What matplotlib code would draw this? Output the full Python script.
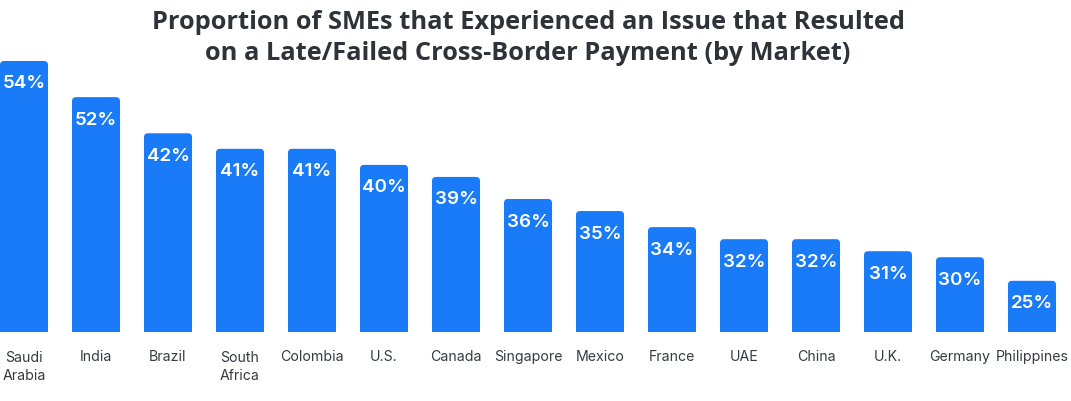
import matplotlib
matplotlib.use("Agg")
import matplotlib.pyplot as plt
from matplotlib.patches import FancyBboxPatch, Rectangle

markets = ["Saudi\nArabia", "India", "Brazil", "South\nAfrica", "Colombia", "U.S.",
           "Canada", "Singapore", "Mexico", "France", "UAE", "China", "U.K.",
           "Germany", "Philippines"]
value_labels = [54, 52, 42, 41, 41, 40, 39, 36, 35, 34, 32, 32, 31, 30, 25]
# bar heights as drawn in the reference (same units as the top bar = 54)
bar_heights = [54.0, 46.8, 39.6, 36.5, 36.5, 33.3, 30.9, 26.5, 24.1, 20.9,
               18.5, 18.5, 16.1, 14.9, 10.2]

W, H = 1071, 402
fig = plt.figure(figsize=(W / 100, H / 100), dpi=100)
base_px = 333
top_px = 55
ax = fig.add_axes([0, (H - base_px) / H, 1, (base_px - top_px) / H])
pitch_px = 72
xl = -24 / pitch_px
xr = (W - 24) / pitch_px
ax.set_xlim(xl, xr)
px_per_unit = 271 / 54.0
ax.set_ylim(0, (base_px - top_px) / px_per_unit)

color = "#1A7BF8"
x = list(range(len(markets)))
bars = ax.bar(x, bar_heights, width=48 / 72, color=color)

r_px = 4
xr_units = r_px / pitch_px
aspect = (1 / px_per_unit) / (1 / pitch_px)
for b in bars:
    bx, by, bw, bh = b.get_x(), b.get_y(), b.get_width(), b.get_height()
    b.set_visible(False)
    ax.add_patch(FancyBboxPatch((bx, by), bw, bh,
                                boxstyle=f"round,pad=0,rounding_size={xr_units}",
                                mutation_aspect=aspect, fc=color, ec="none"))
    ax.add_patch(Rectangle((bx, by), bw, bh / 2, fc=color, ec="none"))

for xi, h, v in zip(x, bar_heights, value_labels):
    ax.text(xi, h - 22 / px_per_unit, f"{v}%", ha="center", va="center",
            color="white", fontsize=13.5, fontweight="semibold", family="Inter")

for xi, m in zip(x, markets):
    if "\n" in m:
        ax.text(xi, -(367 - base_px) / px_per_unit, m, ha="center", va="center",
                color="#363B42", fontsize=10.2, family="Inter", linespacing=1.45,
                clip_on=False)
    else:
        ax.text(xi, -(357 - base_px) / px_per_unit, m, ha="center", va="center",
                color="#363B42", fontsize=10.2, family="Inter", clip_on=False)

ax.axis("off")

fig.text(528 / W, 1 - 38 / H,
         "Proportion of SMEs that Experienced an Issue that Resulted\non a Late/Failed Cross-Border Payment (by Market)",
         ha="center", va="center", fontsize=18.3, fontweight="bold",
         family="Open Sans", color="#2D3339", linespacing=1.33)

fig.savefig("out.png", dpi=100)
